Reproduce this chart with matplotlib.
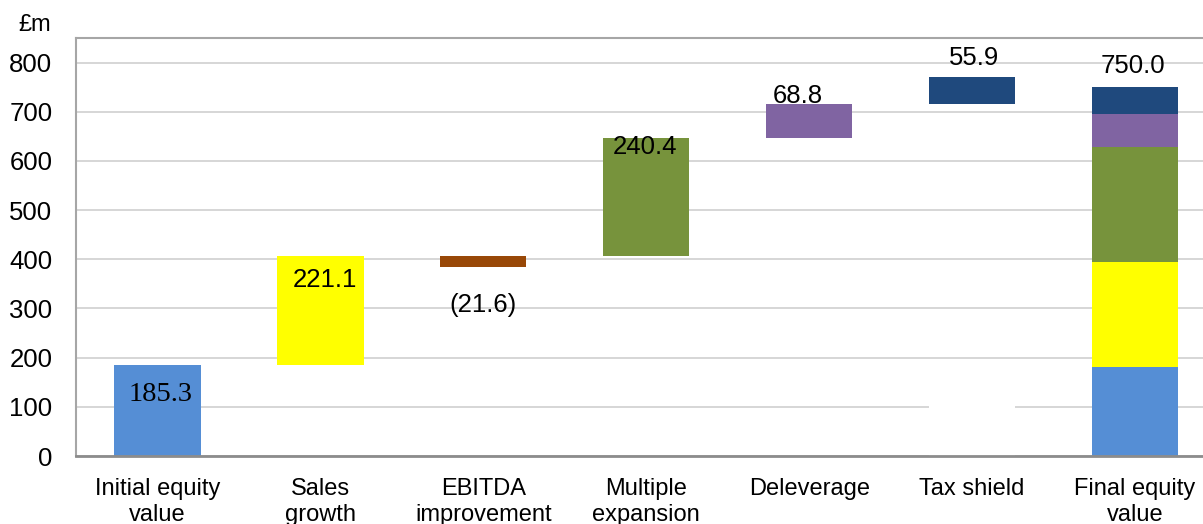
import matplotlib
matplotlib.use("Agg")
import matplotlib.pyplot as plt

# Equity bridge data (£m)
categories = ["Initial equity\nvalue", "Sales\ngrowth", "EBITDA\nimprovement",
              "Multiple\nexpansion", "Deleverage", "Tax shield", "Final equity\nvalue"]
steps = [185.3, 221.1, -21.6, 240.4, 68.8, 55.9]
step_labels = ["185.3", "221.1", "(21.6)", "240.4", "68.8", "55.9"]
final_value = 750.0
final_label = "750.0"
step_colors = ["#558ED5", "#FFFF00", "#984807", "#77933C", "#8064A2", "#1F497D"]
tax_shield_mask = 150.0
y_ticks = [0, 100, 200, 300, 400, 500, 600, 700, 800]

plt.rcParams["font.family"] = ["Liberation Sans", "DejaVu Sans"]

fig = plt.figure(figsize=(12.03, 5.24), dpi=100)
ax = fig.add_axes([76 / 1203, 68 / 524, (1216.5 - 76) / 1203, 418 / 524])

width = 0.53
level = 0.0
bars = []
for i, (v, c) in enumerate(zip(steps, step_colors)):
    if v >= 0:
        bottom, top = level, level + v
        level = top
    else:
        bottom, top = level + v, level
    ax.bar(i, top - bottom, bottom=bottom, width=width, color=c, zorder=3)
    bars.append((bottom, top))

# blank patch over the tax shield column base
ax.bar(5, tax_shield_mask, width=width, color="white", zorder=2.5)

# Final stacked bar: positive drivers scaled to the final value
positives = [(v, c) for v, c in zip(steps, step_colors) if v > 0]
scale = final_value / sum(v for v, _ in positives)
acc = 0.0
for v, c in positives:
    ax.bar(6, v * scale, bottom=acc, width=width, color=c, zorder=3)
    acc += v * scale

# value labels
offsets = [(3, -30, "top"), (4.5, -24, "top"), (0, -38, "bottom"),
           (-1, -9, "top"), (-11, 8, "top"), (2, 19, "top")]
for i, (lab, (dx, dy, ref)) in enumerate(zip(step_labels, offsets)):
    b, t = bars[i]
    y = t if ref == "top" else b
    if i == 0:
        fam, fs = ["Liberation Serif"], 20.5
    else:
        fam, fs = ["Liberation Sans"], 18.5
    ax.annotate(lab, xy=(i, y), xytext=(dx * 0.72, dy * 0.72), textcoords="offset points",
                ha="center", va="center", fontsize=fs, family=fam, zorder=5)
ax.annotate(final_label, xy=(6, final_value), xytext=(-2 * 0.72, 21 * 0.72),
            textcoords="offset points", ha="center", va="center", fontsize=18.5, zorder=5)

ax.set_xlim(-0.5, 6.5)
ax.set_ylim(0, 850)
ax.set_yticks(y_ticks)
ax.set_yticklabels([str(t) for t in y_ticks], fontsize=18.5)
ax.set_xticks(range(len(categories)))
ax.set_xticklabels(categories, fontsize=17, linespacing=1.22)
ax.tick_params(axis="both", length=0)
ax.tick_params(axis="y", pad=17)
ax.tick_params(axis="x", pad=16)
for lab in ax.get_xticklabels():
    lab.set_verticalalignment("top")

ax.grid(axis="y", color="#D0D0D0", linewidth=1.2, zorder=0)
ax.set_axisbelow(True)
for side in ["left", "top"]:
    ax.spines[side].set_color("#A6A6A6")
    ax.spines[side].set_linewidth(1.5)
ax.spines["bottom"].set_color("#8C8C8C")
ax.spines["bottom"].set_linewidth(2)
ax.spines["bottom"].set_zorder(4)
ax.spines["right"].set_visible(False)

fig.text(35 / 1203, 1 - 25 / 524, "£m", ha="center", va="center", fontsize=17)

fig.savefig("out.png", dpi=100)
